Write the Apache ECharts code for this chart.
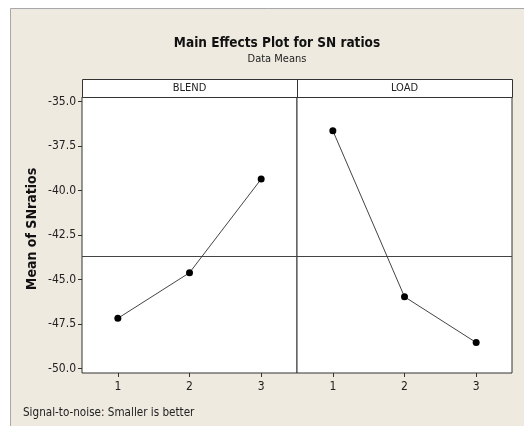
<!DOCTYPE html>
<html>
<head>
<meta charset="utf-8">
<script src="https://cdn.jsdelivr.net/npm/echarts@6/dist/echarts.min.js"></script>
<style>
html,body{margin:0;padding:0;background:#ffffff;}
#chart{width:524px;height:426px;}
</style>
</head>
<body>
<div id="chart"></div>
<script>
const levels = ['1', '2', '3'];
const blendValues = [-47.18, -44.62, -39.36];
const loadValues = [-36.64, -45.97, -48.54];
const yTicks = [-50.0, -47.5, -45.0, -42.5, -40.0, -37.5, -35.0];
const panelNames = ['BLEND', 'LOAD'];

const allVals = blendValues.concat(loadValues);
const grandMean = allVals.reduce((a, b) => a + b, 0) / allVals.length;

const FONT = '"DejaVu Sans Condensed", "DejaVu Sans", sans-serif';
const chart = echarts.init(document.getElementById('chart'));

const gridL = 82, gridW = 215, gridTop = 97, gridH = 276;
const stripTop = 79;

function xAxis(i) {
  return {
    type: 'category', gridIndex: i, data: levels, boundaryGap: true,
    axisLine: { show: false },
    axisTick: { show: true, alignWithLabel: true, length: 4, lineStyle: { color: '#333' } },
    axisLabel: { color: '#222', fontFamily: FONT, fontSize: 12, margin: 8 },
    splitLine: { show: false }
  };
}
function yAxis(i) {
  return {
    type: 'value', gridIndex: i, min: -50.25, max: -34.75,
    show: i === 0,
    axisLine: { show: false },
    axisTick: { show: true, length: 4, customValues: yTicks, lineStyle: { color: '#333' } },
    axisLabel: { customValues: yTicks, color: '#222', fontFamily: FONT, fontSize: 12, margin: 6,
      formatter: v => Number(v).toFixed(1) },
    splitLine: { show: false }
  };
}
function series(i, vals) {
  return {
    type: 'line', xAxisIndex: i, yAxisIndex: i, data: vals,
    symbol: 'circle', symbolSize: 7,
    lineStyle: { color: '#444', width: 1 },
    itemStyle: { color: '#000' },
    animation: false,
    markLine: {
      silent: true, symbol: 'none', animation: false,
      label: { show: false },
      lineStyle: { color: '#444', width: 1, type: 'solid' },
      data: [{ yAxis: grandMean }]
    }
  };
}

const option = {
  backgroundColor: '#ffffff',
  animation: false,
  title: [
    { text: 'Main Effects Plot for SN ratios', left: 272, top: 31, textAlign: 'center',
      textStyle: { fontFamily: FONT, fontWeight: 'bold', fontSize: 13.5, color: '#111' } },
    { text: 'Data Means', left: 272, top: 49, textAlign: 'center',
      textStyle: { fontFamily: FONT, fontWeight: 'normal', fontSize: 11, color: '#222' } }
  ],
  graphic: [
    { type: 'rect', z: -10, shape: { x: 10.5, y: 8.5, width: 530, height: 430 },
      style: { fill: '#EEEAE0', stroke: '#a8a8a8', lineWidth: 1 } },
    { type: 'rect', z: 10, shape: { x: gridL + 0.5, y: stripTop + 0.5, width: gridW * 2, height: gridTop - stripTop },
      style: { fill: '#ffffff', stroke: '#333', lineWidth: 1 } },
    { type: 'line', z: 11, shape: { x1: gridL + gridW + 0.5, y1: stripTop, x2: gridL + gridW + 0.5, y2: gridTop },
      style: { stroke: '#333', lineWidth: 1 } },
    { type: 'text', z: 12, x: gridL + gridW / 2, y: stripTop + 9,
      style: { text: panelNames[0], fontFamily: FONT, fontSize: 11, fill: '#222', align: 'center', verticalAlign: 'middle' } },
    { type: 'text', z: 12, x: gridL + gridW * 1.5, y: stripTop + 9,
      style: { text: panelNames[1], fontFamily: FONT, fontSize: 11, fill: '#222', align: 'center', verticalAlign: 'middle' } },
    { type: 'text', z: 12, x: 32, y: 229, rotation: Math.PI / 2,
      style: { text: 'Mean of SNratios', fontFamily: FONT, fontWeight: 'bold', fontSize: 14, fill: '#111', align: 'center', verticalAlign: 'middle' } },
    { type: 'text', z: 12, x: 23, y: 413,
      style: { text: 'Signal-to-noise: Smaller is better', fontFamily: FONT, fontSize: 11.6, fill: '#222', align: 'left', verticalAlign: 'middle' } }
  ],
  grid: [
    { left: gridL, top: gridTop, width: gridW, height: gridH, show: true, backgroundColor: '#ffffff', borderColor: '#333', borderWidth: 1, containLabel: false },
    { left: gridL + gridW, top: gridTop, width: gridW, height: gridH, show: true, backgroundColor: '#ffffff', borderColor: '#333', borderWidth: 1, containLabel: false }
  ],
  xAxis: [xAxis(0), xAxis(1)],
  yAxis: [yAxis(0), yAxis(1)],
  series: [series(0, blendValues), series(1, loadValues)]
};
chart.setOption(option);
</script>
</body>
</html>
